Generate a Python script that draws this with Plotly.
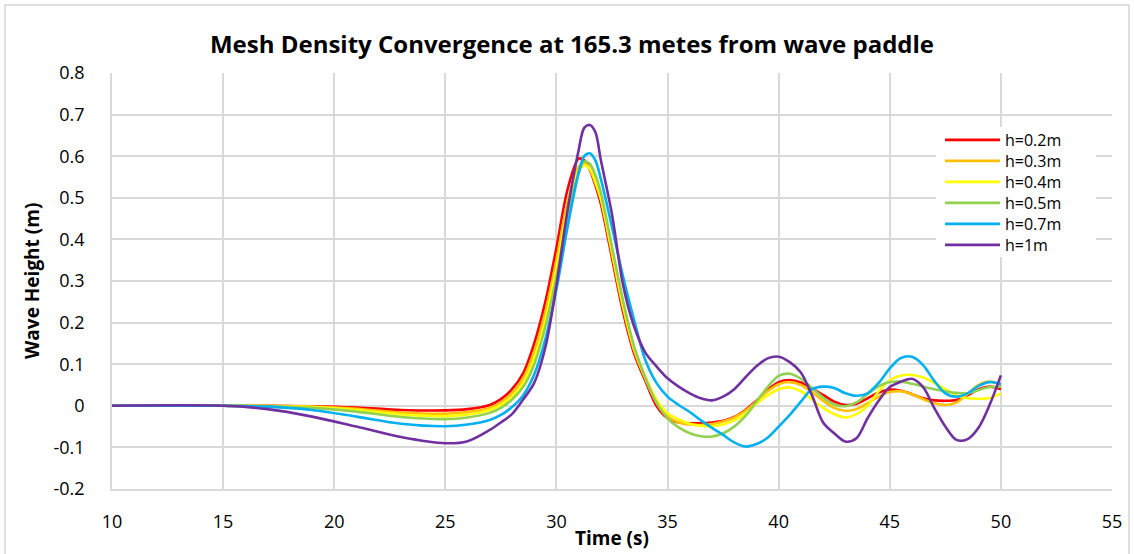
import plotly.graph_objects as go

# Time (s)
time_s = [10, 15, 17, 19, 21, 23, 25, 26, 27,
          27.5, 28, 28.5, 29, 29.5, 30, 30.5, 31,
          31.25, 31.5, 31.75, 32,
          32.5, 33, 33.5, 34, 34.5, 35, 35.5, 36, 36.5, 37, 37.5, 38, 38.5, 39, 39.5,
          40, 40.5, 41, 41.5, 42, 42.5, 43, 43.5, 44, 44.5, 45, 45.5, 46, 46.5, 47,
          47.5, 48, 48.5, 49, 49.5, 50]

h_02 = [0, 0, 0, -0.001, -0.004, -0.010, -0.011, -0.008, 0.002,
        0.016, 0.040, 0.078, 0.150, 0.250, 0.380, 0.520, 0.594,
        0.590, 0.568, 0.530, 0.485,
        0.355, 0.225, 0.125, 0.060, 0.000, -0.030, -0.040, -0.042, -0.042, -0.040, -0.036, -0.027, -0.010, 0.012, 0.038,
        0.057, 0.062, 0.056, 0.042, 0.026, 0.010, 0.002, 0.005, 0.018, 0.032, 0.039, 0.036, 0.028, 0.018, 0.013,
        0.012, 0.014, 0.025, 0.040, 0.046, 0.040]

h_03 = [0, 0, 0, -0.002, -0.007, -0.016, -0.019, -0.015, -0.005,
        0.008, 0.030, 0.065, 0.130, 0.225, 0.350, 0.490, 0.575,
        0.583, 0.570, 0.535, 0.495,
        0.365, 0.235, 0.132, 0.065, 0.008, -0.026, -0.040, -0.045, -0.046, -0.044, -0.038, -0.028, -0.012, 0.010, 0.035,
        0.052, 0.057, 0.050, 0.033, 0.012, -0.005, -0.012, -0.008, 0.006, 0.022, 0.033, 0.035, 0.028, 0.016, 0.006,
        0.002, 0.008, 0.028, 0.050, 0.058, 0.050]

h_04 = [0, 0, -0.001, -0.003, -0.010, -0.021, -0.025, -0.021, -0.010,
        0.002, 0.022, 0.055, 0.115, 0.205, 0.330, 0.470, 0.565,
        0.578, 0.570, 0.540, 0.500,
        0.372, 0.242, 0.138, 0.070, 0.015, -0.018, -0.033, -0.043, -0.048, -0.049, -0.045, -0.035, -0.020, 0.005, 0.025,
        0.040, 0.044, 0.035, 0.015, -0.005, -0.020, -0.028, -0.020, 0.000, 0.035, 0.062, 0.073, 0.074, 0.068, 0.055,
        0.040, 0.025, 0.018, 0.017, 0.019, 0.030]

h_05 = [0, 0, -0.001, -0.005, -0.014, -0.027, -0.032, -0.028, -0.017,
        -0.005, 0.015, 0.045, 0.100, 0.190, 0.310, 0.455, 0.560,
        0.587, 0.582, 0.555, 0.512,
        0.382, 0.252, 0.142, 0.068, 0.008, -0.030, -0.052, -0.066, -0.073, -0.074, -0.066, -0.050, -0.025, 0.010, 0.045,
        0.072, 0.077, 0.065, 0.043, 0.020, 0.003, -0.001, 0.008, 0.028, 0.047, 0.057, 0.058, 0.053, 0.046, 0.040,
        0.035, 0.031, 0.030, 0.038, 0.045, 0.046]

h_07 = [0, 0, -0.002, -0.010, -0.026, -0.043, -0.049, -0.045, -0.034,
        -0.022, -0.003, 0.025, 0.075, 0.160, 0.280, 0.430, 0.560,
        0.600, 0.607, 0.590, 0.545,
        0.430, 0.310, 0.205, 0.110, 0.055, 0.022, 0.002, -0.015, -0.035, -0.053, -0.070, -0.088, -0.098, -0.092, -0.077,
        -0.050, -0.022, 0.010, 0.040, 0.046, 0.043, 0.030, 0.024, 0.030, 0.055, 0.090, 0.115, 0.118, 0.098, 0.060,
        0.030, 0.022, 0.030, 0.048, 0.057, 0.052]

h_10 = [0, 0, -0.008, -0.026, -0.050, -0.075, -0.090, -0.085, -0.058,
        -0.040, -0.020, 0.015, 0.055, 0.140, 0.290, 0.470, 0.615,
        0.668, 0.675, 0.658, 0.590,
        0.460, 0.290, 0.190, 0.128, 0.095, 0.066, 0.046, 0.030, 0.018, 0.013, 0.022, 0.040, 0.068, 0.095, 0.114,
        0.118, 0.105, 0.080, 0.025, -0.040, -0.066, -0.086, -0.078, -0.030, 0.012, 0.045, 0.058, 0.065, 0.045, -0.005,
        -0.050, -0.082, -0.080, -0.052, 0.003, 0.073]

series_names = ["h=0.2m", "h=0.3m", "h=0.4m", "h=0.5m", "h=0.7m", "h=1m"]
series_values = [h_02, h_03, h_04, h_05, h_07, h_10]
series_colors = ["#FF0000", "#FFC000", "#FFFF00", "#92D050", "#00B0F0", "#7030A0"]

x_ticks = [10, 15, 20, 25, 30, 35, 40, 45, 50, 55]
y_ticks = [-0.2, -0.1, 0, 0.1, 0.2, 0.3, 0.4, 0.5, 0.6, 0.7, 0.8]
y_tick_text = ["-0.2", "-0.1", "0", "0.1", "0.2", "0.3", "0.4", "0.5", "0.6", "0.7", "0.8"]

FONT = "Open Sans"

# plot-area pixel geometry (for paper coordinates)
L, R, T, B = 112, 1112, 73, 489
PW, PH = R - L, B - T


def px_x(px):
    return (px - L) / PW


def px_y(py):
    return (B - py) / PH


fig = go.Figure()
legend_ids = ["legend", "legend2", "legend3", "legend4", "legend5", "legend6"]
for name, vals, col, lid in zip(series_names, series_values, series_colors, legend_ids):
    fig.add_trace(go.Scatter(
        x=time_s, y=vals, name=name, mode="lines", legend=lid,
        line=dict(color=col, width=2.6, shape="spline", smoothing=0.9),
    ))

legend_layout = {}
for i, lid in enumerate(legend_ids):
    legend_layout[lid] = dict(
        x=px_x(940), xanchor="left", y=px_y(140 + 21 * i), yanchor="middle",
        bgcolor="rgba(0,0,0,0)", borderwidth=0, itemwidth=55,
        font=dict(family=FONT, size=16, color="#000000"),
    )

fig.update_layout(
    width=1134, height=554,
    margin=dict(l=L, r=1134 - R, t=T, b=554 - B),
    paper_bgcolor="white", plot_bgcolor="white",
    font=dict(family=FONT, size=18, color="#000000"),
    title=dict(
        text="<b>Mesh Density Convergence at 165.3 metes from wave paddle</b>",
        x=572 / 1134, xanchor="center", y=1 - 45 / 554, yanchor="middle",
        font=dict(family=FONT, size=24, color="#000000"),
    ),
    showlegend=True,
    xaxis=dict(
        range=[10, 55], tickvals=x_ticks, ticktext=[str(v) for v in x_ticks],
        showgrid=True, gridcolor="#D9D9D9", gridwidth=1.5,
        zeroline=False, showline=True, linecolor="#D9D9D9", linewidth=1.5,
        ticks="", ticklabelstandoff=16,
        tickfont=dict(family=FONT, size=18, color="#000000"),
    ),
    yaxis=dict(
        range=[-0.2, 0.8], tickvals=y_ticks, ticktext=y_tick_text,
        showgrid=True, gridcolor="#D9D9D9", gridwidth=1.5,
        zeroline=False, showline=True, linecolor="#D9D9D9", linewidth=1.5,
        ticks="", ticklabelstandoff=22,
        tickfont=dict(family=FONT, size=18, color="#000000"),
    ),
    annotations=[
        dict(text="<b>Time (s)</b>", xref="paper", yref="paper",
             x=px_x(612), y=px_y(538), xanchor="center", yanchor="middle",
             showarrow=False, font=dict(family=FONT, size=19, color="#000000")),
        dict(text="<b>Wave Height (m)</b>", xref="paper", yref="paper",
             x=px_x(32), y=px_y(281), xanchor="center", yanchor="middle",
             textangle=-90, showarrow=False, font=dict(family=FONT, size=19, color="#000000")),
    ],
    shapes=[
        dict(type="rect", xref="paper", yref="paper",
             x0=px_x(936), x1=px_x(1096), y0=px_y(257), y1=px_y(127),
             line=dict(width=0), fillcolor="white", layer="above"),
        dict(type="rect", xref="paper", yref="paper",
             x0=px_x(5), x1=px_x(1129), y0=px_y(560), y1=px_y(5),
             line=dict(color="#BFBFBF", width=1), fillcolor="rgba(0,0,0,0)", layer="below"),
    ],
    **legend_layout,
)

fig.write_html("out.html")
